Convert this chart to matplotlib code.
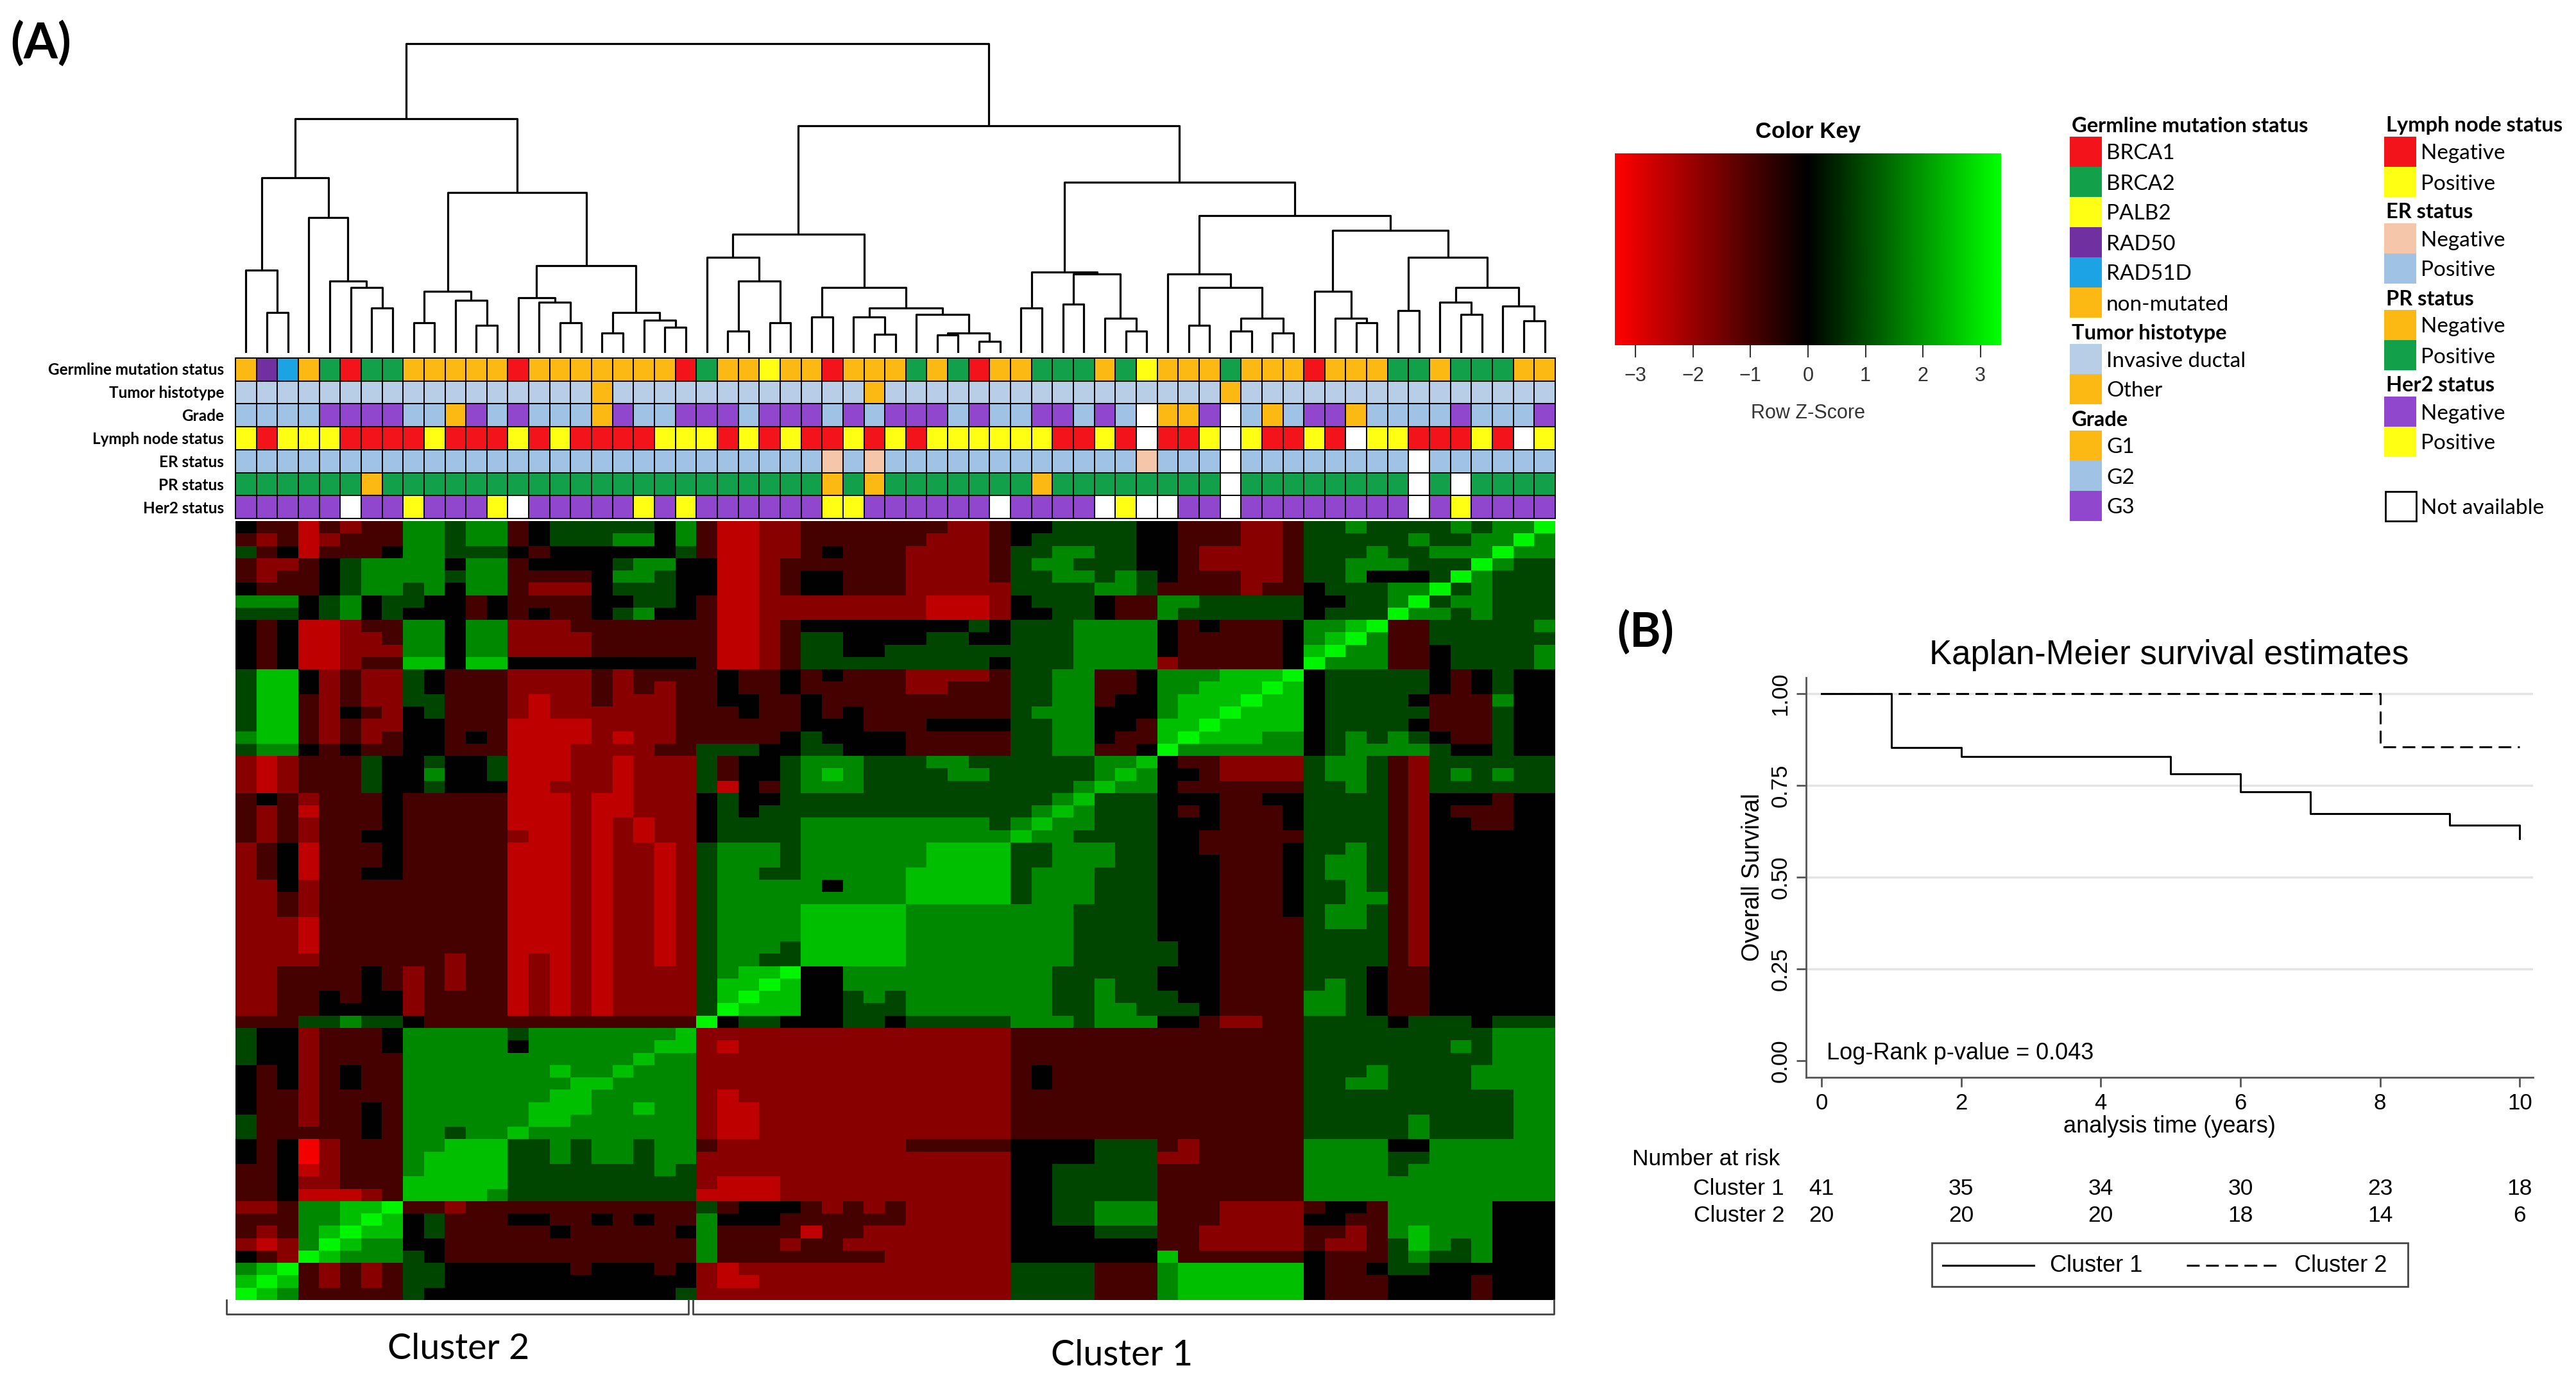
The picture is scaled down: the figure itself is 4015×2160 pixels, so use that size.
import numpy as np
import matplotlib
matplotlib.use("Agg")
import matplotlib.pyplot as plt
import matplotlib.transforms as mtransforms
from matplotlib.colors import LinearSegmentedColormap
from matplotlib.patches import Rectangle

# ---------------- data ----------------
# dendrogram merges: (left node, right node, height); leaves 0..62, merges numbered from 63
dendro_merges = [
    (1, 2, 63), (0, 63, 128), (6, 7, 70), (5, 65, 102), (4, 66, 112), (3, 67, 210),
    (64, 68, 272), (8, 9, 47), (11, 12, 43), (10, 71, 82), (70, 72, 96), (15, 16, 47),
    (14, 74, 79), (13, 75, 86), (17, 18, 31), (20, 21, 40), (19, 78, 51), (77, 79, 63),
    (76, 80, 135), (73, 81, 249), (69, 82, 363),
    (23, 24, 34), (25, 26, 47), (84, 85, 112), (22, 86, 148), (27, 28, 56), (30, 31, 29),
    (29, 89, 56), (33, 34, 28), (35, 36, 18), (91, 92, 31), (32, 93, 60), (90, 94, 70),
    (88, 95, 102), (87, 96, 184), (37, 38, 70), (39, 40, 76), (42, 43, 34), (41, 100, 54),
    (99, 101, 122), (98, 102, 125), (45, 46, 43), (47, 48, 34), (49, 50, 31), (105, 106, 54),
    (104, 107, 102), (44, 108, 122), (53, 54, 47), (52, 110, 54), (51, 111, 96), (55, 56, 66),
    (58, 59, 60), (57, 114, 79), (61, 62, 50), (60, 116, 73), (115, 117, 102), (113, 118, 148),
    (112, 119, 190), (109, 120, 213), (103, 121, 265), (97, 122, 353), (83, 123, 480),
]

# annotation tracks (one char per sample, left to right)
germline = "OPBOGRGGOOOOOROOOOOOORGOOY" + "OOROOOGOGROOGGGOGYOOOGOOOROOOGGOGGGOO"
histotype = "DDDDDDDDDD DDDDDDDODD DDDDDDDDDD ODDDDDDDDD DDDDDDDODD DDDDDDDDDD DDD"
grade = "2222333322 1323222132 2333233323 2333232233 232N113N21 2331222232 223"
lymph = "pnpppnnnnp nnnpnpnnnn pppnpnpnnp npnppppppn npnxnnpxpn npnxppnnnp nxp"
er = "pppppppppp pppppppppp ppppppppnp nppppppppp pppnpppxpp ppppppxppp ppp"
pr = "ppppppnppp pppppppppp ppppppppnp npppppppnp pppppppxpp ppppppxpxp ppp"
her2 = "nnnnnxnnpn nnpxnnnnnp npnnnnnnpp nnnnnnxnnn nxpxxnnxnn nnnnnnxnpn nnn"

track_names = ["Germline mutation status", "Tumor histotype", "Grade", "Lymph node status",
               "ER status", "PR status", "Her2 status"]

# heatmap (row Z-score), one string per displayed row (top to bottom), digit = level index
z_levels = [-3.2, -2.5, -1.8, -0.9, 0.0, 0.9, 1.8, 2.5, 3.2]
heat_rows = [
    "433 13233 66566 3455 55546 31122 3333333223 4455554 4333223 5565 55565668",
    "323 12333 66566 3455 56646 31122 3333332223 4555554 4333223 5555 56556686",
    "534 13334 66555 4344 44445 31122 3433322223 5566554 4322223 5556 55666866",
    "322 34566 66466 3444 45664 41123 3333322223 5665554 4322223 5566 65558655",
    "323 34566 66566 3333 46654 41123 4433322223 5566565 4333223 5564 44586555",
    "433 34566 56466 3222 45554 41123 4433322222 5555665 3333233 4555 66856555",
    "666 45645 54434 3333 44554 31122 2222221112 4555433 6655555 4455 68566555",
    "555 45645 44434 3433 45644 31122 2222221112 4455433 6555555 4555 86656555",
    "434 11233 66466 2223 33333 31123 4444444454 5556666 4343334 6678 33555556",
    "434 11223 66466 2222 33333 31123 5544445544 5556666 4333334 6786 33555555",
    "434 11222 66466 2222 33333 31123 5544555555 5556666 4333334 7866 33455556",
    "434 11233 77477 4444 44444 31123 5555555554 5556666 2333334 8666 33455556",
    "577 42322 54333 2222 32333 34334 3433322223 5566334 6667778 4555 55434544",
    "577 42322 54333 2222 32323 34334 3333322333 5566334 6677787 4555 55434544",
    "577 32322 55333 2122 32223 34433 4333333333 5566344 6777877 4555 54333644",
    "577 32432 45333 2122 22223 33433 4343333333 5666444 6778777 4555 55333544",
    "577 32322 44333 1111 22223 33333 4443334444 5566443 7787777 4555 54333544",
    "677 32323 44343 1111 21223 33334 5444433333 5566433 7877766 4565 65433544",
    "566 43433 44333 1112 22233 55544 5544433333 5566334 8666666 4566 66544544",
    "212 33354 45445 1112 21222 53445 6665556655 5555667 4332222 5665 32555555",
    "212 33354 46445 1112 21222 53445 6765555665 5555676 4432222 5665 32565655",
    "212 33354 45444 1122 21222 51435 6665555555 5556766 4333333 5565 32555555",
    "343 23334 33333 1112 11222 45445 5555555555 5567555 4443344 5555 32444344",
    "323 13334 33333 1112 11222 45455 5555555555 5676555 4343334 5555 32433344",
    "323 23334 33333 1112 12122 45555 6666666665 6766555 4443334 5555 32443344",
    "323 23344 33333 2112 12122 45555 6666666666 7665555 4433333 5555 32444444",
    "234 13334 33333 1112 12212 56665 6666667777 5566655 4433334 5565 32444444",
    "234 13334 33333 1112 12212 56665 6666667777 5566655 4443334 5665 32444444",
    "234 13344 33333 1112 12212 56655 6666677777 5666555 4443334 5665 32444444",
    "224 23333 33333 1112 12212 56666 6466677777 5666555 4443334 5565 32444444",
    "223 23333 33333 1112 12212 56666 6666677777 5666555 4443334 5566 32444444",
    "223 23333 33333 1112 12212 56666 7777766666 6665555 4443334 5665 32444444",
    "222 13333 33333 1112 12212 56666 7777766666 6665555 4443333 5665 32444444",
    "222 13333 33333 1112 12212 56666 7777766666 6665555 4443333 5555 32444444",
    "222 13333 33333 1112 12212 56665 7777766666 6665555 5443333 5555 32444444",
    "222 23333 33233 1212 12212 56655 7777766666 6665555 5443333 5555 32444444",
    "223 33343 23233 1212 12222 56778 4466666666 6655555 4443333 5554 33444444",
    "223 33343 23233 1212 12222 57787 4466666666 6655655 4443333 5654 33444444",
    "223 34344 23333 1212 12222 57877 4456566666 6655655 5443333 6654 33444444",
    "223 34444 23333 1212 12222 58777 4455566666 6655665 5543333 6654 33444444",
    "333 55655 43333 3333 33333 84554 4455455555 6665666 4432233 5555 45554555",
    "544 23334 66666 5666 66667 22222 2222222222 3333333 3333333 5555 55555666",
    "544 23334 66666 4666 66677 21222 2222222222 3333333 3333333 5555 55565666",
    "544 23333 66666 6666 66766 22222 2222222222 3333333 3333333 5555 55555666",
    "434 23433 66666 6676 67666 22222 2222222222 3433333 3333333 5556 55556666",
    "434 23433 66666 6667 76666 22222 2222222222 3433333 3333333 5566 55556666",
    "433 23333 66666 6677 66666 21222 2222222222 3333333 3333333 5555 55555566",
    "433 23343 66666 6777 66766 21122 2222222222 3333333 3333333 5555 55555566",
    "533 23343 66666 6776 66666 21122 2222222222 3333333 3333333 5555 56555566",
    "533 33343 66566 7666 66666 21122 2222222222 3333333 3333333 5555 56555566",
    "434 02333 66777 5565 66566 32222 2222233333 4444555 3233333 6666 44666666",
    "434 02333 67777 5565 66566 22222 2222222222 4444555 2233333 6666 55666666",
    "334 12333 67777 5555 55565 22222 2222222222 4455555 3333333 6666 56666666",
    "334 22333 77777 5555 55555 21112 2222222222 4455555 3333333 6666 66666666",
    "334 11123 77776 5555 55555 11112 2222222222 4455555 3333333 6666 66666666",
    "223 66778 33233 3333 33333 53444 3232322222 4455666 3332222 3443 66666444",
    "333 66787 45333 4433 43433 64443 3333322222 4455666 3332222 4433 66666444",
    "323 67877 45333 3343 33334 63333 1332222222 4444555 3322222 3323 67666444",
    "212 68766 44333 3333 33333 63332 3322222222 4444444 3322222 3223 57656444",
    "432 87666 54333 3333 33333 63333 3333222222 4444444 7333333 4333 56556444",
    "678 32323 55444 4443 44434 21222 2222222222 5555333 6777777 4334 55444444",
    "787 32323 55444 4444 44444 21122 2222222222 5555333 6777777 4333 44443444",
    "876 33333 54444 4444 44445 22222 2222222222 5555333 6777777 4333 44443444",
]

# Kaplan-Meier estimates
km_t1 = [0, 1, 2, 5, 6, 7, 9, 10]
km_s1 = [1.0, 0.853, 0.829, 0.781, 0.732, 0.673, 0.642, 0.605]
km_t2 = [0, 8, 10]
km_s2 = [1.0, 0.855, 0.855]
risk_times = [0, 2, 4, 6, 8, 10]
risk_c1 = [41, 35, 34, 30, 23, 18]
risk_c2 = [20, 20, 20, 18, 14, 6]

# legend contents
legend_col1 = [
    ("Germline mutation status", [("BRCA1", "#F2141A"), ("BRCA2", "#13A04B"), ("PALB2", "#FFFF14"),
                                  ("RAD50", "#7030A0"), ("RAD51D", "#1CA3E3"), ("non-mutated", "#FDB913")]),
    ("Tumor histotype", [("Invasive ductal", "#B8CDE6"), ("Other", "#FDB913")]),
    ("Grade", [("G1", "#FDB913"), ("G2", "#9FC2E5"), ("G3", "#9047CE")]),
]
legend_col2 = [
    ("Lymph node status", [("Negative", "#F2141A"), ("Positive", "#FFFF14")]),
    ("ER status", [("Negative", "#F6C6AA"), ("Positive", "#9FC2E5")]),
    ("PR status", [("Negative", "#FDB913"), ("Positive", "#13A04B")]),
    ("Her2 status", [("Negative", "#9047CE"), ("Positive", "#FFFF14")]),
]

track_colors = [
    {"R": "#F2141A", "G": "#13A04B", "Y": "#FFFF14", "P": "#7030A0", "B": "#1CA3E3", "O": "#FDB913"},
    {"D": "#B8CDE6", "O": "#FDB913"},
    {"1": "#FDB913", "2": "#9FC2E5", "3": "#9047CE", "N": "white"},
    {"n": "#F2141A", "p": "#FFFF14", "x": "white"},
    {"n": "#F6C6AA", "p": "#9FC2E5", "x": "white"},
    {"n": "#FDB913", "p": "#13A04B", "x": "white"},
    {"n": "#9047CE", "p": "#FFFF14", "x": "white"},
]

# ---------------- figure ----------------
W, H = 4015, 2160
fig = plt.figure(figsize=(W / 100, H / 100), dpi=100)
CAL = "Lato"
ARI = "Liberation Sans"


def px_axes(x0, y0, x1, y1):
    return fig.add_axes([x0 / W, 1 - y1 / H, (x1 - x0) / W, (y1 - y0) / H])


rg = LinearSegmentedColormap.from_list("rg", ["#FF0000", "#000000", "#00FF00"])

# heatmap
z = np.array([[z_levels[int(ch)] for ch in row.replace(" ", "")] for row in heat_rows])
assert z.shape == (63, 63), z.shape
ax_h = px_axes(367, 812, 2424, 2026)
ax_h.imshow(z, cmap=rg, vmin=-3.35, vmax=3.35, aspect="auto", interpolation="nearest",
            extent=(-0.5, 62.5, 62.5, -0.5))
ax_h.axis("off")

# annotation tracks
tracks = [germline, histotype, grade, lymph, er, pr, her2]
ax_a = px_axes(367, 558, 2424, 808)
for r, (codes, cols) in enumerate(zip(tracks, track_colors)):
    codes = codes.replace(" ", "")
    assert len(codes) == 63, (r, len(codes))
    for c, ch in enumerate(codes):
        ax_a.add_patch(Rectangle((c - 0.5, r - 0.5), 1, 1, facecolor=cols[ch],
                                 edgecolor="black", lw=1.4, clip_on=False))
ax_a.set_xlim(-0.5, 62.5)
ax_a.set_ylim(6.5, -0.5)
ax_a.axis("off")

# dendrogram
ax_d = px_axes(367, 40, 2424, 550)
pos = {i: (float(i), 0.0) for i in range(63)}
for k, (a, b, h) in enumerate(dendro_merges):
    xa, ha = pos[a]
    xb, hb = pos[b]
    ax_d.plot([xa, xa, xb, xb], [ha, h, h, hb], color="black", lw=2.3, solid_capstyle="butt")
    pos[63 + k] = ((xa + xb) / 2, h)
ax_d.set_xlim(-0.5, 62.5)
ax_d.set_ylim(0, 510 * 480 / 482)
ax_d.axis("off")

# color key
ax_k = px_axes(2517, 239, 3119, 538)
ax_k.imshow(np.linspace(-3.36, 3.36, 400)[None, :], cmap=rg, vmin=-3.35, vmax=3.35,
            aspect="auto", extent=(-3.36, 3.36, 0, 1))
ax_k.set_xlim(-3.36, 3.36)
ax_k.set_yticks([])
ax_k.set_xticks(range(-3, 4))
for s in ax_k.spines.values():
    s.set_visible(False)
ax_k.tick_params(axis="x", length=14, width=1.5, labelsize=22, pad=10, color="#333")
for lab in ax_k.get_xticklabels():
    lab.set_family(ARI)
    lab.set_color("#333")

# Kaplan-Meier panel
ax_s = px_axes(2815, 1056, 3948, 1679)
ax_s.set_xlim(-0.22, 10.19)
ax_s.set_ylim(-0.045, 1.044)
for yv in [0.25, 0.5, 0.75, 1.0]:
    ax_s.axhline(yv, color="#E3E3E3", lw=2.5, zorder=0)
ax_s.step(km_t1, km_s1, where="post", color="black", lw=2.2)
ax_s.step(km_t2, km_s2, where="post", color="black", lw=2.2, linestyle=(0, (6.5, 3.3)))
for side in ["top", "right"]:
    ax_s.spines[side].set_visible(False)
for side in ["left", "bottom"]:
    ax_s.spines[side].set_color("#555")
    ax_s.spines[side].set_linewidth(2)
ax_s.set_xticks(range(0, 11, 2))
ax_s.set_yticks([0, 0.25, 0.5, 0.75, 1.0])
ax_s.set_yticklabels(["0.00", "0.25", "0.50", "0.75", "1.00"], rotation=90, va="center")
ax_s.tick_params(length=11, width=2, color="#555", labelsize=25, pad=6)
for lab in ax_s.get_xticklabels() + ax_s.get_yticklabels():
    lab.set_family(ARI)
ax_s.set_xlabel("analysis time (years)", fontsize=26, family=ARI, labelpad=2)
ax_s.set_ylabel("Overall Survival", fontsize=27, family=ARI, labelpad=6)
ax_s.text(0.07, 0.02, "Log-Rank p-value = 0.043", fontsize=26, family=ARI, ha="left", va="center")

# overlay for free text and legends (pixel coordinates)
ov = fig.add_axes([0, 0, 1, 1])
ov.set_xlim(0, W)
ov.set_ylim(H, 0)
ov.axis("off")
ov.patch.set_visible(False)

ov.text(16, 68, "(A)", fontsize=55, fontweight="bold", family=CAL, ha="left", va="center")
ov.text(2520, 986, "(B)", fontsize=53, fontweight="bold", family=CAL, ha="left", va="center")

# track labels
for r, name in enumerate(track_names):
    ov.text(349, 576 + r * 36, name, fontsize=17.5, fontweight="bold", family=CAL,
            ha="right", va="center")

# cluster brackets
ov.plot([353, 353, 1073, 1073], [2026, 2048, 2048, 2026], color="#444", lw=2)
ov.plot([1080, 1080, 2422, 2422], [2026, 2048, 2048, 2026], color="#444", lw=2)
ov.text(715, 2103, "Cluster 2", fontsize=40, family=CAL, ha="center", va="center")
ov.text(1749, 2113, "Cluster 1", fontsize=40, family=CAL, ha="center", va="center")

# color key texts
ov.text(2818, 206, "Color Key", fontsize=25, fontweight="bold", family=ARI, ha="center", va="center")
ov.text(2818, 644, "Row Z-Score", fontsize=22, family=ARI, color="#333", ha="center", va="center")

# annotation legend
item_h, gap = 47, 41
for col_x, sections in [(3226, legend_col1), (3716, legend_col2)]:
    y = 213
    for header, items in sections:
        ov.text(col_x + 3, y - 17, header, fontsize=23.5, fontweight="bold", family=CAL,
                ha="left", va="center")
        for label, color in items:
            ov.add_patch(Rectangle((col_x, y), 50, item_h, facecolor=color, edgecolor="none"))
            ov.text(col_x + 57, y + item_h / 2 + 3, label, fontsize=24, family=CAL,
                    ha="left", va="center")
            y += item_h
        y += gap
ov.add_patch(Rectangle((3718, 766), 48, 46, facecolor="white", edgecolor="black", lw=2))
ov.text(3773, 792, "Not available", fontsize=24, family=CAL, ha="left", va="center")

# KM title, number at risk and legend
ov.text(3381, 1021, "Kaplan-Meier survival estimates", fontsize=38, family=ARI, ha="center", va="center")
ov.text(2544, 1807, "Number at risk", fontsize=25.5, family=ARI, ha="left", va="center")
ov.text(2781, 1852, "Cluster 1", fontsize=25.5, family=ARI, ha="right", va="center")
ov.text(2781, 1895, "Cluster 2", fontsize=25.5, family=ARI, ha="right", va="center")
risk_tr = mtransforms.blended_transform_factory(ax_s.transData, ov.transData)
for t, n1, n2 in zip(risk_times, risk_c1, risk_c2):
    ov.text(t, 1852, str(n1), transform=risk_tr, fontsize=25.5, family=ARI, ha="center", va="center")
    ov.text(t, 1895, str(n2), transform=risk_tr, fontsize=25.5, family=ARI, ha="center", va="center")

ov.add_patch(Rectangle((3011, 1937), 742, 68, facecolor="none", edgecolor="#444", lw=2))
ov.plot([3028, 3170], [1972, 1972], color="black", lw=2.2)
ov.text(3195, 1972, "Cluster 1", fontsize=26, family=ARI, ha="left", va="center")
ov.plot([3408, 3557], [1972, 1972], color="black", lw=2.2, linestyle=(0, (6.5, 3.3)))
ov.text(3576, 1972, "Cluster 2", fontsize=26, family=ARI, ha="left", va="center")

fig.savefig("out.png", dpi=100, facecolor="white")
